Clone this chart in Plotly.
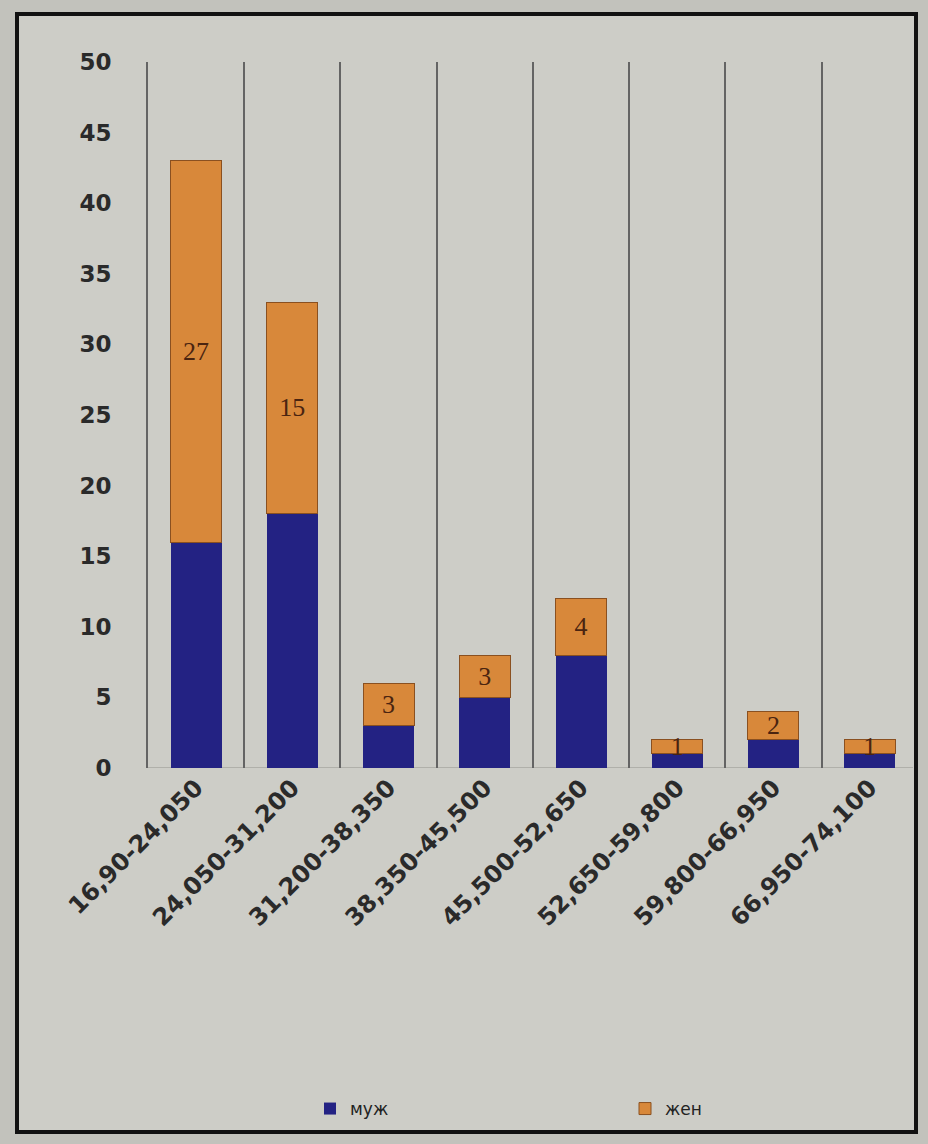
import plotly.graph_objects as go

categories = ["16,90-24,050", "24,050-31,200", "31,200-38,350", "38,350-45,500",
              "45,500-52,650", "52,650-59,800", "59,800-66,950", "66,950-74,100"]
male = [16, 18, 3, 5, 8, 1, 2, 1]
female = [27, 15, 3, 3, 4, 1, 2, 1]
y_ticks = [0, 5, 10, 15, 20, 25, 30, 35, 40, 45, 50]

MALE_C = "#232283"
FEMALE_C = "#d8883a"
INNER_BG = "#cdcdc7"
OUTER_BG = "#c2c2bc"

fig = go.Figure()
fig.add_trace(go.Bar(
    x=categories, y=male, name="муж", marker=dict(color=MALE_C, line=dict(width=0)),
    legend="legend",
))
fig.add_trace(go.Bar(
    x=categories, y=female, name="жен",
    marker=dict(color=FEMALE_C, line=dict(color="#8a5020", width=1)),
    text=[str(v) for v in female], textposition="inside", insidetextanchor="middle",
    textangle=0, constraintext="none",
    textfont=dict(family="Liberation Serif", size=26, color="#4a2410"),
    legend="legend2",
))

W0, W1 = 148, 913
T0, B0 = 62, 768
pw, ph = W1 - W0, B0 - T0

def px(x):
    return (x - W0) / pw

def py(y):
    return (B0 - y) / ph

fig.update_layout(
    width=928, height=1144,
    margin=dict(l=W0, r=928 - W1, t=T0, b=1144 - B0),
    barmode="stack", bargap=0.47,
    paper_bgcolor=OUTER_BG, plot_bgcolor="rgba(0,0,0,0)",
    font=dict(family="DejaVu Sans", color="#2a2a2a"),
    shapes=[dict(type="rect", xref="paper", yref="paper",
                 x0=px(17), x1=px(916), y0=py(1132), y1=py(14),
                 line=dict(color="#111111", width=4), fillcolor=INNER_BG, layer="below")],
    legend=dict(x=px(310), y=py(1109), xanchor="left", yanchor="middle", orientation="h",
                bgcolor="rgba(0,0,0,0)", font=dict(size=17, color="#222222", family="DejaVu Sans"),
                itemwidth=30),
    legend2=dict(x=px(625), y=py(1109), xanchor="left", yanchor="middle", orientation="h",
                 bgcolor="rgba(0,0,0,0)", font=dict(size=17, color="#222222", family="DejaVu Sans"),
                 itemwidth=30),
    showlegend=True,
)
fig.update_xaxes(
    tickson="boundaries", showgrid=True, gridcolor="#646464", gridwidth=2,
    ticks="", tickangle=-45, range=[-0.5, 7.45],
    tickfont=dict(family="DejaVu Sans", size=24, color="#2a2a2a", weight="bold"),
    showline=False,
)
fig.update_yaxes(
    range=[0, 50], tickvals=y_ticks, showgrid=False, zeroline=False,
    showline=True, linecolor="#646464", linewidth=2,
    ticks="", ticklabelstandoff=30,
    tickfont=dict(family="DejaVu Sans", size=23, color="#2a2a2a", weight="bold"),
)
fig.add_shape(type="line", xref="paper", yref="y", x0=0, x1=1, y0=0, y1=0,
              line=dict(color="#b0b0aa", width=2), layer="below")

fig.write_html("out.html")
